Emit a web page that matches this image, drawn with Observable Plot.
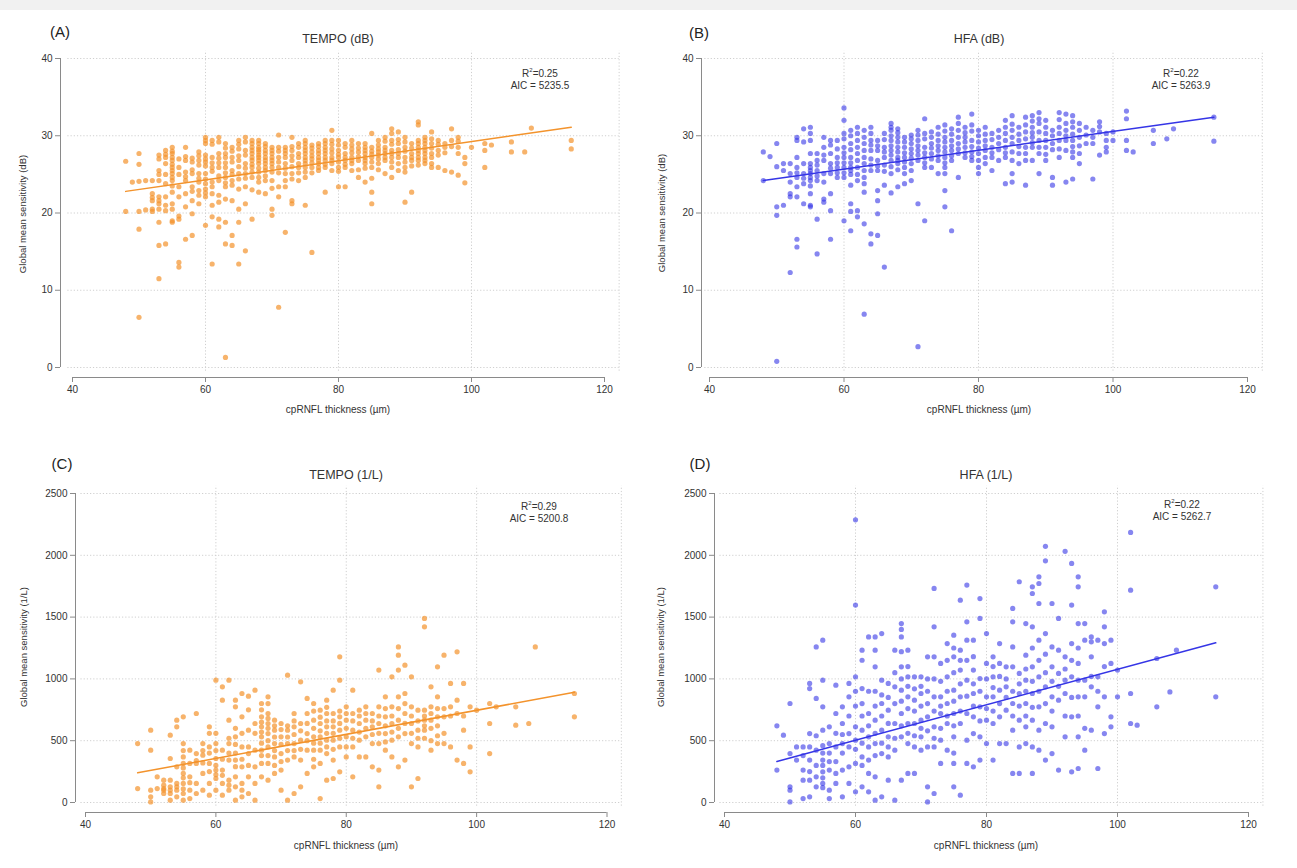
<!DOCTYPE html>
<html>
<head>
<meta charset="utf-8">
<script src="https://cdn.jsdelivr.net/npm/d3@7"></script>
<script src="https://cdn.jsdelivr.net/npm/@observablehq/plot@0.6"></script>
<style>
  html, body { margin: 0; padding: 0; background: #fff; }
  #page { position: relative; width: 1297px; height: 868px; background: #fff; overflow: hidden;
          font-family: "Liberation Sans", Arial, sans-serif; color: #333; }
  #band { position: absolute; left: 0; top: 0; width: 1297px; height: 10px; background: #f1f1f1; }
  .panel { position: absolute; }
  .panel svg { overflow: visible; }
  .txt { position: absolute; white-space: nowrap; transform: translate(-50%, -50%); color: #333; }
  .lab { font-size: 15px; color: #222; }
  .ttl { font-size: 12.5px; }
  .axl { font-size: 10px; }
  .ann { font-size: 10px; text-align: center; line-height: 1.25; }
  .ylab { transform: translate(-50%, -50%) rotate(-90deg); font-size: 9.5px; }
</style>
</head>
<body>
<div id="page"><div id="band"></div></div>
<script>
// ---------- data: [cpRNFL thickness (µm), [global mean sensitivity values]] ----------
const tempoDb = [
  [48,[26.7,20.2]],[49,[24.0]],[50,[27.7,26.3,24.1,20.2,17.9,6.5]],[51,[24.2,20.4]],
  [52,[24.2,22.5,22.0,21.6,20.5,20.2]],[53,[27.5,27.0,25.5,25.0,24.2,22.1,21.6,21.2,20.5,18.8,15.8,11.5]],
  [54,[28.1,27.6,27.2,26.4,25.0,23.8,22.1,21.0,20.3,16.0]],
  [55,[28.5,28.0,27.7,27.2,26.8,26.3,25.9,25.5,25.1,24.6,24.2,23.5,22.7,21.2,20.5,19.0,18.8]],
  [56,[27.0,25.9,25.0,23.4,22.1,19.6,19.2,13.6,13.0]],[57,[28.5,27.3,26.8,25.3,24.7,24.2,22.5,20.8,16.6]],
  [58,[27.1,26.6,25.6,25.1,23.4,22.8,21.6,19.9,17.1]],[59,[27.9,27.4,26.8,26.2,25.1,24.5,24.0,22.9,22.3,21.2]],
  [60,[29.8,29.4,29.0,27.5,27.0,26.6,26.1,25.1,24.4,23.8,23.1,22.6,22.1,18.4]],
  [61,[29.4,28.9,27.2,26.5,25.9,25.4,24.0,23.4,22.5,21.0,19.5,13.4]],
  [62,[29.8,29.2,27.7,27.1,26.5,25.9,24.8,24.2,22.3,21.4,19.2,18.2]],
  [63,[29.0,28.4,27.7,27.2,26.5,25.9,25.2,24.6,23.9,23.4,21.8,18.8,16.0,1.3]],
  [64,[28.5,28.0,27.2,26.6,25.5,25.0,24.2,23.6,21.6,17.1,15.8]],
  [65,[29.4,28.9,28.3,27.4,26.8,26.0,25.1,24.4,23.1,20.5,18.8,13.4]],
  [66,[29.8,29.2,28.1,27.5,26.4,25.8,25.1,24.5,23.4,21.2,15.1]],
  [67,[29.4,29.0,28.5,28.1,27.7,27.2,26.8,26.3,25.9,25.3,24.6,23.0,19.2]],
  [68,[29.4,29.0,28.5,28.2,27.9,27.5,27.2,26.8,26.4,25.8,25.3,24.6,24.0,22.7]],
  [69,[29.0,28.6,28.1,27.7,27.2,26.8,26.4,25.9,25.5,24.8,24.2,22.5]],
  [70,[28.5,28.1,27.7,27.2,26.8,26.4,25.9,25.3,24.2,23.2,20.5,19.7]],
  [71,[30.1,28.5,28.0,27.2,26.6,25.9,25.2,23.4,22.1,7.8]],
  [72,[28.5,28.1,27.7,27.2,26.4,25.8,25.1,24.2,23.4,17.5]],
  [73,[29.8,28.6,28.1,27.4,26.8,26.0,25.1,24.4,21.6,21.2]],
  [74,[29.0,28.5,27.7,27.2,26.4,25.9,25.2,24.2]],
  [75,[29.4,29.0,28.5,28.1,27.7,27.2,26.8,26.4,25.9,25.3,24.6,21.0]],
  [76,[28.8,28.4,27.9,27.4,27.0,26.5,25.9,25.2,14.9]],[77,[29.0,28.6,28.1,27.7,27.2,26.8,26.4,25.9,25.5]],
  [78,[29.4,29.0,28.5,28.1,27.7,27.2,26.8,26.3,25.9,22.7]],[79,[30.7,29.4,28.9,28.3,27.8,27.2,26.8,26.4,25.5]],
  [80,[29.4,28.8,28.1,27.6,27.2,26.6,25.9,25.4,23.4]],[81,[29.0,28.5,27.7,27.2,26.8,26.3,25.9,23.4]],
  [82,[29.4,28.8,28.3,27.8,27.2,26.8,26.4,25.5]],[83,[29.0,28.4,27.9,27.3,26.8,25.6,24.6]],
  [84,[29.0,28.5,28.1,27.7,27.2,26.8,26.4,25.8,24.0]],[85,[30.3,28.5,28.0,27.6,27.2,26.6,25.9,24.5,22.7,21.2]],
  [86,[29.4,28.8,28.3,27.9,27.5,27.0,26.4,25.6]],[87,[29.8,29.3,28.5,28.1,27.7,27.2,26.8,25.1]],
  [88,[30.9,30.3,29.4,28.9,28.1,27.7,27.2,26.6,25.9,24.6]],[89,[30.5,29.5,29.0,28.2,27.7,27.2,26.4,25.5]],
  [90,[29.8,29.2,28.5,28.0,27.2,26.6,25.9,25.3,21.4]],[91,[29.0,28.4,27.7,27.2,26.8,26.1,22.7]],
  [92,[31.8,31.4,29.4,29.0,28.5,28.1,27.7,27.2,26.8,26.2]],[93,[29.8,29.4,29.0,28.5,28.1,27.7,27.2,26.8,26.4]],
  [94,[30.5,29.6,29.0,28.4,27.7,27.2,26.4,25.9]],[95,[29.4,28.9,28.1,27.5,25.9]],[96,[29.0,28.5,27.8,25.5]],
  [97,[30.9,29.4,28.6,25.3]],[98,[29.8,29.3,28.5,27.7,24.9]],[99,[27.2,26.4,23.9]],[100,[28.5]],
  [102,[29.0,28.1,25.9]],[103,[28.8]],[106,[29.2,27.9]],[108,[27.9]],[109,[31.0]],[115,[29.4,28.3]]
];
const hfaDb = [
  [48,[27.9,24.2]],[49,[27.3]],[50,[29.0,26.0,20.8,19.7,0.8]],[51,[26.4,25.5,21.0]],
  [52,[26.4,25.1,24.0,22.5,22.1,12.3]],[53,[29.8,29.4,27.2,25.9,25.2,24.6,23.4,22.1,16.6,15.6]],
  [54,[30.9,29.2,26.4,25.1,24.5,23.8,21.2]],
  [55,[31.1,30.3,29.4,27.7,26.4,25.9,25.5,25.1,24.6,24.2,23.5,22.5,21.0,20.8]],
  [56,[27.7,26.8,26.2,25.5,24.8,24.2,19.2,14.7]],[57,[29.8,28.5,27.5,26.8,25.1,24.0,21.8,21.4]],
  [58,[29.4,28.8,27.7,26.4,25.8,25.1,22.5,20.3,16.6]],[59,[29.4,28.3,27.2,26.5,25.9,25.2,24.6]],
  [60,[33.6,32.0,30.3,29.6,28.5,27.8,27.2,26.5,25.9,25.2,24.6,19.0]],
  [61,[30.7,30.0,29.0,28.2,27.2,26.5,25.9,25.5,25.0,23.6,21.2,20.2,17.7]],
  [62,[31.1,30.3,29.4,28.5,27.7,26.8,25.9,25.0,24.2,20.3,19.5]],
  [63,[30.7,29.8,29.0,28.1,27.2,26.4,25.5,24.6,23.8,22.7,18.6,6.9]],
  [64,[31.1,30.3,29.4,28.8,28.1,27.0,26.2,25.5,17.3,16.0]],
  [65,[29.4,28.7,28.1,26.8,26.1,25.5,22.9,21.6,19.9,17.1]],
  [66,[30.3,29.5,28.5,27.9,27.2,26.2,25.4,23.6,13.0]],
  [67,[31.6,31.1,30.7,30.0,29.4,28.7,28.1,27.5,26.8,26.0,25.1,22.6]],
  [68,[30.9,30.4,29.8,29.2,28.5,27.9,27.2,26.8,26.4,25.6,23.4]],
  [69,[29.8,29.2,28.5,27.8,27.2,26.6,25.9,25.1,23.8]],[70,[30.1,29.6,29.0,28.3,27.7,27.1,26.4,25.5,24.2]],
  [71,[30.7,30.1,29.4,28.7,28.1,27.5,26.8,21.2,2.7]],[72,[32.2,30.3,29.6,28.5,27.8,27.2,26.5,25.9,19.0]],
  [73,[30.5,29.8,29.0,28.4,27.7,27.0,25.9]],[74,[31.1,30.2,29.4,28.7,28.1,27.4,26.8,25.1]],
  [75,[31.4,30.6,29.8,29.2,28.5,27.9,27.2,26.5,25.9,25.1,22.9,20.8]],
  [76,[30.9,30.2,29.4,28.7,28.1,27.4,26.8,17.7]],[77,[32.4,31.6,30.7,29.8,29.0,28.3,27.7,24.6]],
  [78,[31.1,30.4,29.8,29.2,28.5,27.8,27.2]],[79,[32.8,31.4,30.6,29.4,28.6,27.9,27.3,26.8]],
  [80,[30.7,30.0,29.2,28.4,27.7,26.8,25.9,25.1]],[81,[31.1,30.2,29.4,28.7,28.1,27.2,26.4]],
  [82,[30.3,29.5,28.5,27.8,27.2,25.5]],[83,[30.7,29.8,29.0,28.2,26.8]],
  [84,[32.0,31.1,30.3,29.4,28.5,27.8,27.2,23.8]],[85,[32.6,31.5,30.7,29.8,29.0,27.9,26.8,25.1,24.0]],
  [86,[31.1,30.2,29.4,28.6,27.7,26.4]],[87,[32.4,31.4,30.5,29.6,28.5,27.7,26.8,23.6]],
  [88,[32.6,31.9,31.1,30.4,29.8,29.1,28.5,26.8]],[89,[33.0,32.2,31.6,30.5,29.4,28.5,27.7,25.1]],
  [90,[32.0,31.1,30.3,29.4,28.5,27.6,26.8]],[91,[30.7,30.0,29.0,28.2,24.6,23.6]],
  [92,[33.0,32.1,31.1,30.3,29.4,28.3,27.2]],[93,[32.8,31.6,30.7,30.0,29.4,28.1,24.0]],
  [94,[32.6,31.8,31.1,30.2,29.4,28.6,27.9,27.2,24.4]],[95,[31.6,30.7,29.8,28.7,27.7,26.4]],
  [96,[31.1,30.1,29.0]],[97,[30.7,29.8,29.0,24.4]],[98,[31.8,31.2,30.5,27.5]],[99,[30.3,29.4,28.5,27.9]],
  [100,[30.5,29.4]],[102,[33.2,32.2,29.4,28.1]],[103,[27.9]],[106,[30.7,29.0]],[108,[29.6]],
  [109,[30.9]],[115,[32.4,29.3]]
];
const tempoL = [
  [48,[477,113]],[50,[585,423,100,46,5]],[51,[208,113]],[52,[181,140,113,100,73]],
  [53,[545,356,181,127,100,73,19]],[54,[666,612,289,154,127,100,46]],
  [55,[693,477,420,369,316,280,235,200,154,110,73,19]],[56,[423,316,208,160,100,32]],
  [57,[720,396,340,316,154,73]],[58,[477,420,383,320,235,100]],[59,[612,560,450,400,316,250,154,59]],
  [60,[990,560,477,420,356,300,262,225,194,100]],[61,[936,828,423,350,262,220,154,59]],
  [62,[990,666,520,477,400,343,181,140,100]],[63,[828,774,600,531,470,400,343,290,208,127,19]],
  [64,[882,693,560,450,350,289,154,100,46]],[65,[860,750,585,450,396,300,208,73]],
  [66,[909,639,560,423,289,154,19]],[67,[801,750,693,650,612,570,531,480,423,380,316,208]],
  [68,[855,800,720,680,639,600,558,500,450,380,316,181]],[69,[666,620,585,530,477,420,369,300,235]],
  [70,[639,590,531,470,396,330,262,100]],[71,[1030,620,585,530,477,420,343,19]],
  [72,[720,660,612,550,477,420,369,73]],[73,[976,639,580,504,430,343,127]],
  [74,[842,720,640,558,500,423,235]],[75,[801,740,666,600,531,480,423,350,289]],
  [76,[747,690,639,580,531,480,423,316,32]],[77,[828,770,720,660,612,560,504,450,396,181]],
  [78,[909,720,660,612,560,504,430,343,194]],[79,[1179,990,740,693,640,585,520,450,248]],
  [80,[774,720,666,600,531,450,369]],[81,[909,720,660,585,520,450,208]],[82,[747,700,639,570,504,369]],
  [83,[774,720,666,600,531,369]],[84,[720,660,612,550,477,289]],[85,[1071,774,700,639,560,477,262,127]],
  [86,[855,760,693,620,558,490,423]],[87,[1017,774,700,639,570,504,369]],
  [88,[1259,1192,1071,855,760,666,600,531,289]],[89,[1111,882,800,720,640,558,343]],
  [90,[1017,774,700,639,560,477,127]],[91,[747,660,585,520,450,194]],
  [92,[1489,1421,747,700,666,620,585,520]],[93,[936,774,720,666,600,500,423]],
  [94,[1098,855,760,693,620,540,477]],[95,[1192,760,693,560,477]],[96,[963,774,700,450]],
  [97,[1219,828,720,343]],[98,[963,700,585,316]],[99,[774,450,248]],[100,[747]],[102,[801,639,396]],
  [103,[774]],[106,[774,626]],[108,[639]],[109,[1259]],[115,[882,693]]
];
const hfaL = [
  [48,[620,262]],[49,[545]],[50,[801,396,127,100,5]],[51,[450,343]],[52,[450,380,262,181,32]],
  [53,[963,922,558,450,343,250,181,46]],[54,[1259,842,540,423,300,208,127]],
  [55,[1313,990,774,585,460,400,343,300,248,200,154,120]],[56,[612,477,400,330,262,100,32]],
  [57,[949,720,560,450,330,235,154]],[58,[774,639,550,477,400,262,46]],[59,[963,855,700,558,450,289,154]],
  [60,[2287,1597,1017,900,780,612,504,430,316,86]],[61,[1232,1151,922,800,700,585,480,369,300,127]],
  [62,[1340,900,720,620,531,450,343,235,86]],[63,[1340,1232,1098,900,780,666,560,477,380,208,19]],
  [64,[1367,990,870,801,700,585,480,396,46]],[65,[963,850,747,640,531,450,369,181]],
  [66,[1232,1050,936,800,639,520,423,19]],[67,[1448,1400,1340,1220,1098,1000,909,820,720,620,531,181]],
  [68,[1232,1100,1017,940,855,760,639,560,477,235]],[69,[1017,920,828,740,639,540,450,235]],
  [70,[1017,940,882,780,666,600,531,423]],[71,[1179,1000,900,800,693,580,450,127,5]],
  [72,[1732,1421,1179,1000,855,740,612,520,450,73]],[73,[1125,980,855,780,720,600,504,316]],
  [74,[1286,1150,1017,900,801,700,639,423]],[75,[1354,1250,1179,1050,909,820,720,620,531,400,316,127]],
  [76,[1637,1232,1150,1071,960,855,740,639,59]],[77,[1759,1462,1313,1150,990,860,720,504,316]],
  [78,[1313,1180,1071,960,882,780,693,558,289]],[79,[1650,1489,1003,900,774,660,531,343]],
  [80,[1367,1125,1000,855,760,666,477]],[81,[1179,1100,1017,930,855,740,639,343]],
  [82,[1286,1125,1020,909,800,693,477]],[83,[1098,1000,936,850,747,477]],
  [84,[1570,1462,1259,1098,900,801,700,585,235]],[85,[1786,1044,960,882,780,666,450,235]],
  [86,[1448,1192,1080,990,900,801,700,612,477]],[87,[1745,1691,1421,1250,1098,980,882,770,666,450,235]],
  [88,[1826,1772,1610,1313,1150,1017,900,774,585,423]],[89,[2073,1955,1367,1200,1050,936,800,639,343]],
  [90,[1610,1259,1098,980,855,740,612,396]],[91,[1489,1232,1044,940,828,262]],
  [92,[2032,1179,1080,990,882,700,531]],[93,[1934,1597,1286,1150,1017,850,693,248]],
  [94,[1826,1745,1448,1250,1125,990,855,700,531,275]],[95,[1448,1313,990,855,600,423]],
  [96,[1340,1300,1179,1020,936,585]],[97,[1313,1017,900,774,275]],[98,[1543,1421,1286,1100,855,558]],
  [99,[1313,1125,693,612]],[100,[1071,855]],[102,[2185,1718,882,639]],[103,[626]],
  [106,[1165,774]],[108,[895]],[109,[1232]],[115,[1745,855]]
];
// fitted lines (end points)
const fitTempoDb = [[48,22.8],[115,31.1]];
const fitHfaDb   = [[48,24.2],[115,32.4]];
const fitTempoL  = [[48,240],[115,892]];
const fitHfaL    = [[48,332],[115,1292]];
const xTicks   = [40,60,80,100,120];
const yTicksDb = [0,10,20,30,40];
const yTicksL  = [0,500,1000,1500,2000,2500];
const orange = "#F3932C";
const blue = "#3535E6";

const flat = (cols) => cols.flatMap(([x, ys]) => ys.map(y => ({x, y})));
const page = document.getElementById("page");

function addText(cls, text, left, top) {
  const d = document.createElement("div");
  d.className = "txt " + cls;
  d.innerHTML = text;
  d.style.left = left + "px";
  d.style.top = top + "px";
  page.appendChild(d);
}

function panel(cfg) {
  const pts = flat(cfg.data);
  const ymax = cfg.yTicks[cfg.yTicks.length - 1];
  const ypad = ymax * 0.012;
  const plot = Plot.plot({
    width: cfg.w, height: cfg.h,
    marginLeft: cfg.ml, marginBottom: cfg.mb, marginTop: 40, marginRight: 20,
    style: {background: "transparent", fontFamily: "Liberation Sans, Arial, sans-serif", fontSize: "10px", color: "#333"},
    x: {domain: [40, 120], range: cfg.xr},
    y: {domain: [0, ymax], range: cfg.yr},
    marks: [
      Plot.ruleY(cfg.yTicks, {x1: 39.3, x2: 122.2, stroke: "#cfcfcf", strokeDasharray: "1.2,2"}),
      Plot.ruleX([60, 80, 100, 122.2], {y1: -ypad, y2: ymax + ypad * 2, stroke: "#cfcfcf", strokeDasharray: "1.2,2"}),
      Plot.ruleY([0], {x1: 40, x2: 120, dy: 10, stroke: "#8a8a8a", strokeWidth: 1}),
      Plot.ruleX([40], {y1: 0, y2: ymax, dx: cfg.dx, stroke: "#8a8a8a", strokeWidth: 1}),
      Plot.axisX(xTicks, {tickSize: 5, tickPadding: 3, stroke: "#8a8a8a", fill: "#333", label: null, fontSize: 10, tickFormat: d => String(d)}),
      Plot.axisY(cfg.yTicks, {tickSize: 5, tickPadding: 3, stroke: "#8a8a8a", fill: "#333", label: null, fontSize: 10, tickFormat: d => String(d)}),
      Plot.dot(pts, {x: "x", y: "y", r: 2.6, fill: cfg.color, fillOpacity: cfg.op, stroke: "none"}),
      Plot.line(cfg.fit, {x: d => d[0], y: d => d[1], stroke: cfg.color, strokeWidth: 1.5})
    ]
  });
  const wrap = document.createElement("div");
  wrap.className = "panel";
  wrap.style.left = cfg.left + "px";
  wrap.style.top = cfg.top + "px";
  wrap.appendChild(plot);
  page.appendChild(wrap);

  addText("lab", cfg.label, cfg.left + cfg.labX, cfg.top + cfg.labY);
  addText("ttl", cfg.title, cfg.left + cfg.cx, cfg.top + cfg.titleY);
  addText("axl", "cpRNFL thickness (µm)", cfg.left + cfg.cx, cfg.top + cfg.xlabY);
  const y = document.createElement("div");
  y.className = "txt ylab";
  y.textContent = cfg.ylab;
  y.style.left = (cfg.left + cfg.ylabX) + "px";
  y.style.top = (cfg.top + cfg.ylabY) + "px";
  page.appendChild(y);
  addText("ann", cfg.ann, cfg.left + cfg.annX, cfg.top + cfg.annY);
}

panel({data: tempoDb, fit: fitTempoDb, yTicks: yTicksDb, color: orange, op: 0.7,
  left: 0, top: 0, w: 650, h: 430, ml: 60, mb: 53, dx: -12, xr: [72, 604], yr: [367, 58],
  label: "(A)", labX: 60, labY: 31, title: "TEMPO (dB)", cx: 338, titleY: 39, xlabY: 409,
  ylab: "Global mean sensitivity (dB)", ylabX: 22, ylabY: 214,
  ann: "R<sup style='font-size:6px'>2</sup>=0.25<br>AIC = 5235.5", annX: 540, annY: 80});

panel({data: hfaDb, fit: fitHfaDb, yTicks: yTicksDb, color: blue, op: 0.6,
  left: 650, top: 0, w: 647, h: 430, ml: 51, mb: 53, dx: -8, xr: [59, 597], yr: [367, 58],
  label: "(B)", labX: 49, labY: 32, title: "HFA (dB)", cx: 329, titleY: 39, xlabY: 409,
  ylab: "Global mean sensitivity (dB)", ylabX: 11, ylabY: 213,
  ann: "R<sup style='font-size:6px'>2</sup>=0.22<br>AIC = 5263.9", annX: 531, annY: 80});

panel({data: tempoL, fit: fitTempoL, yTicks: yTicksL, color: orange, op: 0.7,
  left: 0, top: 430, w: 650, h: 438, ml: 75, mb: 56, dx: -10, xr: [85, 606.5], yr: [372, 63],
  label: "(C)", labX: 62, labY: 33, title: "TEMPO (1/L)", cx: 346, titleY: 45, xlabY: 415,
  ylab: "Global mean sensitivity (1/L)", ylabX: 23, ylabY: 217,
  ann: "R<sup style='font-size:6px'>2</sup>=0.29<br>AIC = 5200.8", annX: 539, annY: 83});

panel({data: hfaL, fit: fitHfaL, yTicks: yTicksL, color: blue, op: 0.6,
  left: 650, top: 430, w: 647, h: 438, ml: 64, mb: 56, dx: -10, xr: [74, 598], yr: [372, 63],
  label: "(D)", labX: 50, labY: 33, title: "HFA (1/L)", cx: 336, titleY: 45, xlabY: 415,
  ylab: "Global mean sensitivity (1/L)", ylabX: 10, ylabY: 217,
  ann: "R<sup style='font-size:6px'>2</sup>=0.22<br>AIC = 5262.7", annX: 532, annY: 81});
</script>
</body>
</html>
